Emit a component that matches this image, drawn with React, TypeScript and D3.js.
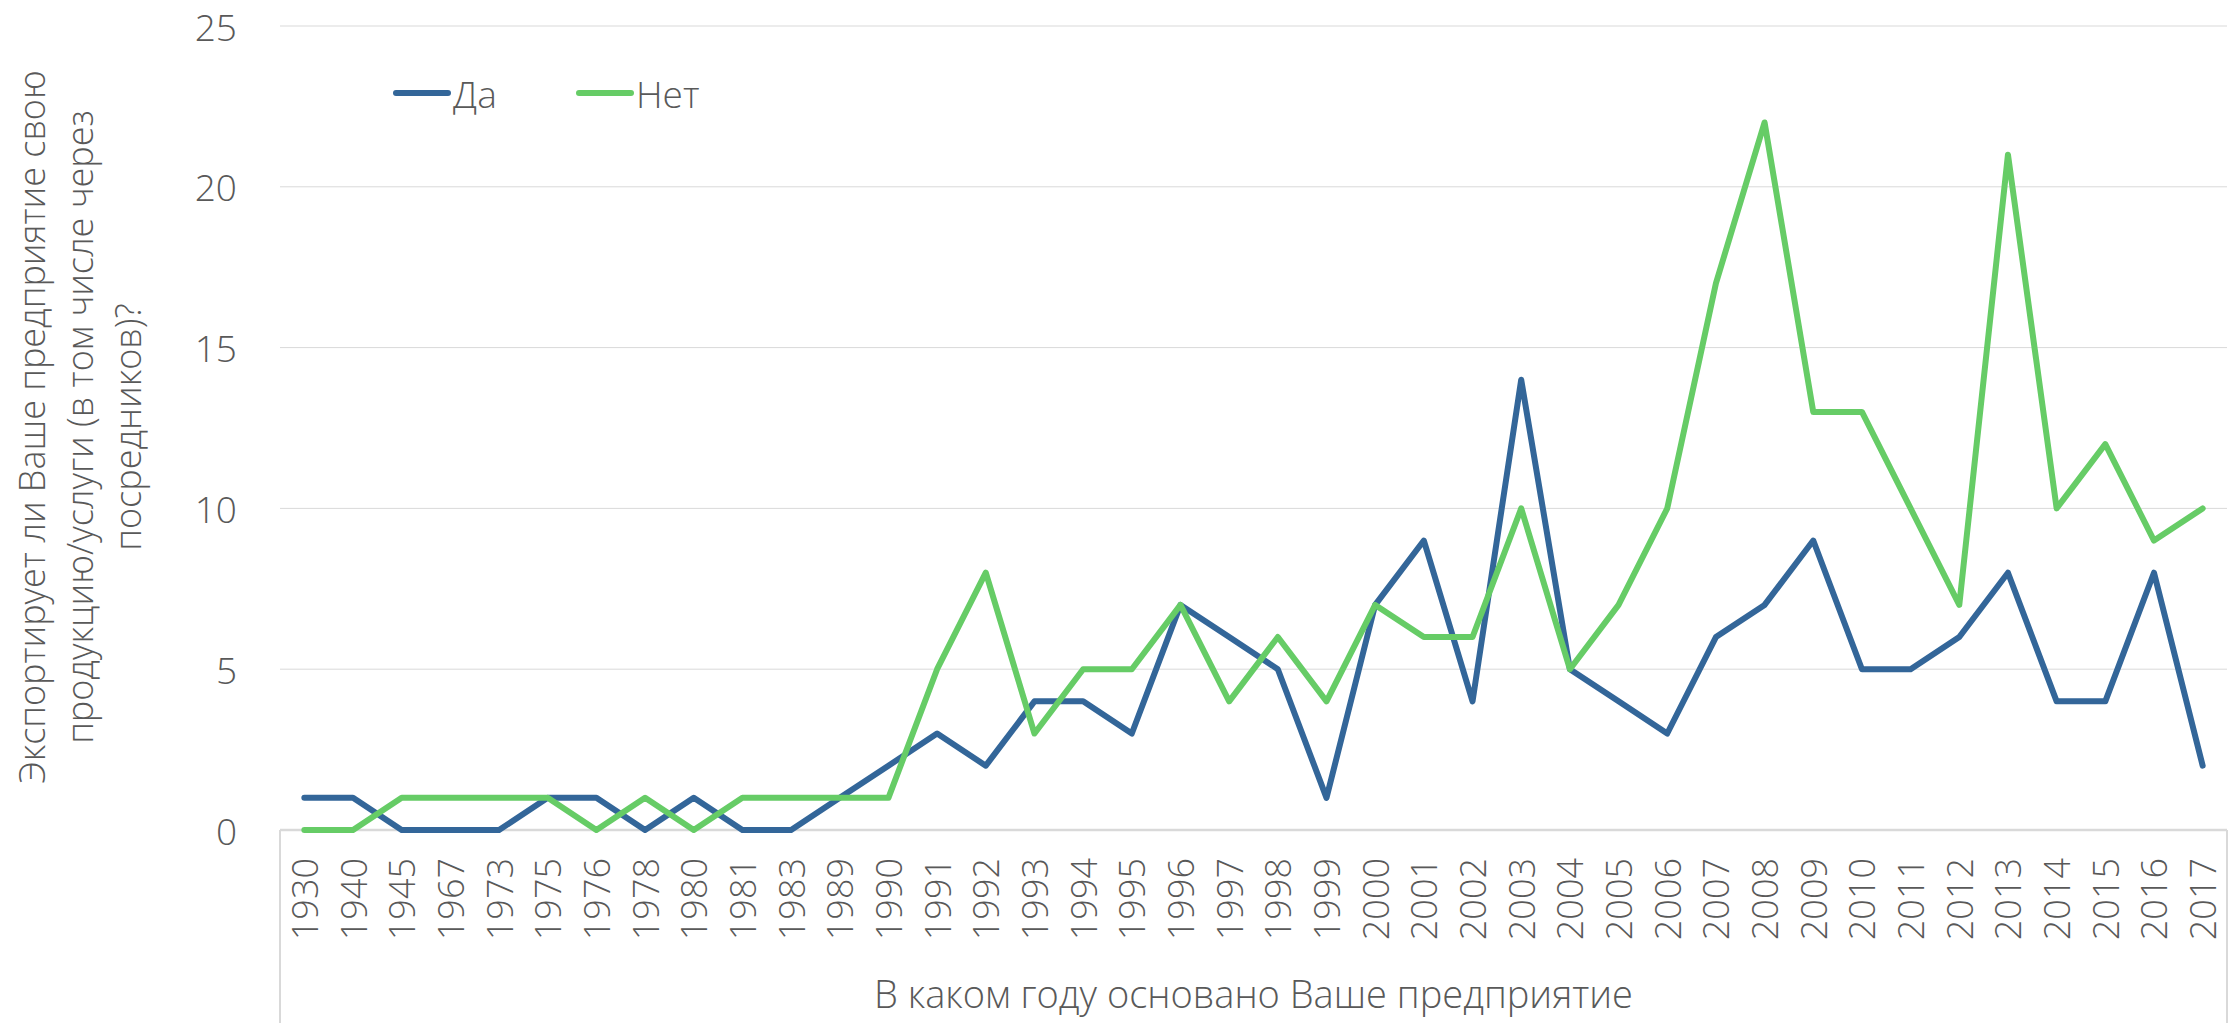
import React from "react";
import * as d3 from "d3";

const years = ["1930","1940","1945","1967","1973","1975","1976","1978","1980","1981","1983","1989","1990","1991","1992","1993","1994","1995","1996","1997","1998","1999","2000","2001","2002","2003","2004","2005","2006","2007","2008","2009","2010","2011","2012","2013","2014","2015","2016","2017"];
const da = [1,1,0,0,0,1,1,0,1,0,0,1,2,3,2,4,4,3,7,6,5,1,7,9,4,14,5,4,3,6,7,9,5,5,6,8,4,4,8,2];
const net = [0,0,1,1,1,1,0,1,0,1,1,1,1,5,8,3,5,5,7,4,6,4,7,6,6,10,5,7,10,17,22,13,13,10,7,21,10,12,9,10];
const yTicks = [0,5,10,15,20,25];
const seriesNames = ["Да", "Нет"];
const colors = ["#336699", "#66CC66"];
const yTitleLines = ["Экспортирует ли Ваше предприятие свою", "продукцию/услуги (в том числе через", "посредников)?"];
const xTitle = "В каком году основано Ваше предприятие";

const W = 2240, H = 1023;
const left = 280, right = 2227, top = 26, bottom = 830;
const FONT = "'Open Sans', sans-serif";
const TXT = "#595959";

export default function App() {
  const x = d3.scaleBand<string>().domain(years).range([left, right]);
  const y = d3.scaleLinear().domain([0, 25]).range([bottom, top]);
  const cx = (i: number) => (x(years[i]) as number) + x.bandwidth() / 2;
  const line = d3.line<number>().x((_, i) => cx(i)).y((d) => y(d));
  const series = [da, net];
  const legendX = [396, 579];
  return (
    <svg width={W} height={H} style={{ position: "absolute", left: 0, top: 0, background: "#fff" }}>
      <rect x={0} y={0} width={W} height={H} fill="#fff" />
      {yTicks.map((t) => (
        <g key={t}>
          {t > 0 && <line x1={left} x2={right} y1={y(t)} y2={y(t)} stroke="#D9D9D9" strokeWidth={1} />}
          <text x={237} y={y(t)} textAnchor="end" dominantBaseline="central" fontFamily={FONT} fontWeight={300} fontSize={37} fill={TXT}>{t}</text>
        </g>
      ))}
      <line x1={left} x2={right} y1={bottom} y2={bottom} stroke="#D9D9D9" strokeWidth={2.5} />
      <line x1={left} x2={left} y1={bottom} y2={H} stroke="#D9D9D9" strokeWidth={2} />
      <line x1={right} x2={right} y1={bottom} y2={H} stroke="#D9D9D9" strokeWidth={2} />
      {years.map((yr, i) => (
        <text key={yr} transform={`translate(${cx(i)},858) rotate(-90)`} textAnchor="end" dominantBaseline="central" fontFamily={FONT} fontWeight={300} fontSize={36} fill={TXT}>{yr}</text>
      ))}
      <text x={(left + right) / 2} y={1008} textAnchor="middle" fontFamily={FONT} fontWeight={300} fontSize={38} fill={TXT}>{xTitle}</text>
      <text transform={`translate(79,427) rotate(-90)`} textAnchor="middle" fontFamily={FONT} fontWeight={300} fontSize={36} fill={TXT}>
        {yTitleLines.map((l, i) => (
          <tspan key={i} x={0} y={(i - 1) * 48} dominantBaseline="central">{l}</tspan>
        ))}
      </text>
      {series.map((s, k) => (
        <path key={k} d={line(s) || ""} fill="none" stroke={colors[k]} strokeWidth={6} strokeLinejoin="round" strokeLinecap="round" />
      ))}
      {seriesNames.map((n, k) => (
        <g key={n}>
          <line x1={legendX[k]} x2={legendX[k] + 52} y1={93} y2={93} stroke={colors[k]} strokeWidth={6} strokeLinecap="round" />
          <text x={legendX[k] + 57} y={93} dominantBaseline="central" fontFamily={FONT} fontWeight={300} fontSize={37} fill={TXT}>{n}</text>
        </g>
      ))}
    </svg>
  );
}
